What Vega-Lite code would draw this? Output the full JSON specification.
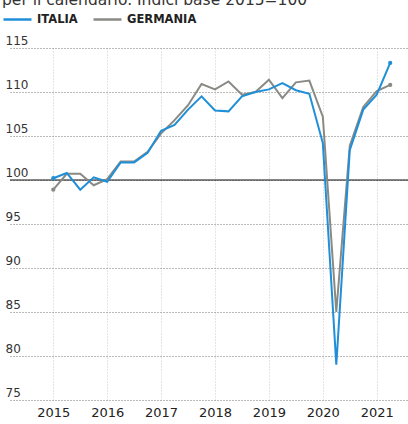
{
  "$schema": "https://vega.github.io/schema/vega-lite/v6.json",
  "autosize": {"type": "none"},
  "padding": {"left": 10, "top": 48, "right": 0, "bottom": 24},
  "width": 398,
  "height": 352,
  "background": "#ffffff",
  "config": {"view": {"stroke": null}, "font": "DejaVu Sans"},
  "title": {"text": "per il calendario. Indici base 2015=100", "frame": "group", "anchor": "start", "orient": "top", "offset": 0, "dy": 16, "baseline": "alphabetic", "dx": -8, "fontSize": 15.5, "fontWeight": "normal", "color": "#333333"},
  "data": {"values": [
    {"q": 2015.0, "s": "GERMANIA", "v": 98.9},
    {"q": 2015.25, "s": "GERMANIA", "v": 100.7},
    {"q": 2015.5, "s": "GERMANIA", "v": 100.7},
    {"q": 2015.75, "s": "GERMANIA", "v": 99.4},
    {"q": 2016.0, "s": "GERMANIA", "v": 100.1},
    {"q": 2016.25, "s": "GERMANIA", "v": 102.1},
    {"q": 2016.5, "s": "GERMANIA", "v": 102.1},
    {"q": 2016.75, "s": "GERMANIA", "v": 103.2},
    {"q": 2017.0, "s": "GERMANIA", "v": 105.3},
    {"q": 2017.25, "s": "GERMANIA", "v": 106.8},
    {"q": 2017.5, "s": "GERMANIA", "v": 108.5},
    {"q": 2017.75, "s": "GERMANIA", "v": 110.9},
    {"q": 2018.0, "s": "GERMANIA", "v": 110.3},
    {"q": 2018.25, "s": "GERMANIA", "v": 111.2},
    {"q": 2018.5, "s": "GERMANIA", "v": 109.7},
    {"q": 2018.75, "s": "GERMANIA", "v": 110.0},
    {"q": 2019.0, "s": "GERMANIA", "v": 111.4},
    {"q": 2019.25, "s": "GERMANIA", "v": 109.3},
    {"q": 2019.5, "s": "GERMANIA", "v": 111.1},
    {"q": 2019.75, "s": "GERMANIA", "v": 111.3},
    {"q": 2020.0, "s": "GERMANIA", "v": 107.2},
    {"q": 2020.25, "s": "GERMANIA", "v": 85.0},
    {"q": 2020.5, "s": "GERMANIA", "v": 103.9},
    {"q": 2020.75, "s": "GERMANIA", "v": 108.3},
    {"q": 2021.0, "s": "GERMANIA", "v": 110.1},
    {"q": 2021.25, "s": "GERMANIA", "v": 110.8},
    {"q": 2015.0, "s": "ITALIA", "v": 100.2},
    {"q": 2015.25, "s": "ITALIA", "v": 100.8},
    {"q": 2015.5, "s": "ITALIA", "v": 98.9},
    {"q": 2015.75, "s": "ITALIA", "v": 100.3},
    {"q": 2016.0, "s": "ITALIA", "v": 99.8},
    {"q": 2016.25, "s": "ITALIA", "v": 102.0},
    {"q": 2016.5, "s": "ITALIA", "v": 102.0},
    {"q": 2016.75, "s": "ITALIA", "v": 103.1},
    {"q": 2017.0, "s": "ITALIA", "v": 105.6},
    {"q": 2017.25, "s": "ITALIA", "v": 106.25},
    {"q": 2017.5, "s": "ITALIA", "v": 108.0},
    {"q": 2017.75, "s": "ITALIA", "v": 109.5},
    {"q": 2018.0, "s": "ITALIA", "v": 107.9},
    {"q": 2018.25, "s": "ITALIA", "v": 107.8},
    {"q": 2018.5, "s": "ITALIA", "v": 109.5},
    {"q": 2018.75, "s": "ITALIA", "v": 110.0},
    {"q": 2019.0, "s": "ITALIA", "v": 110.3},
    {"q": 2019.25, "s": "ITALIA", "v": 111.0},
    {"q": 2019.5, "s": "ITALIA", "v": 110.2},
    {"q": 2019.75, "s": "ITALIA", "v": 109.8},
    {"q": 2020.0, "s": "ITALIA", "v": 104.2},
    {"q": 2020.25, "s": "ITALIA", "v": 79.0},
    {"q": 2020.5, "s": "ITALIA", "v": 103.4},
    {"q": 2020.75, "s": "ITALIA", "v": 108.0},
    {"q": 2021.0, "s": "ITALIA", "v": 109.7},
    {"q": 2021.25, "s": "ITALIA", "v": 113.3}
  ]},
  "encoding": {
    "x": {"field": "q", "type": "quantitative",
      "scale": {"domain": [2014.197, 2021.58], "nice": false, "zero": false},
      "axis": {"title": null, "values": [2015, 2016, 2017, 2018, 2019, 2020, 2021], "format": "d", "domain": false, "ticks": false, "labelPadding": 6, "labelFontSize": 13, "labelColor": "#222222", "labelFont": "DejaVu Sans", "grid": true, "gridDash": [1, 2], "gridColor": "#c8c8c8", "gridWidth": 1}},
    "y": {"field": "v", "type": "quantitative",
      "scale": {"domain": [75, 115], "nice": false, "zero": false},
      "axis": {"title": null, "values": [75, 80, 85, 90, 95, 100, 105, 110, 115], "domain": false, "ticks": false, "labelAlign": "left", "labelPadding": 5, "labelBaseline": "bottom", "labelOffset": -1, "labelFontSize": 12, "labelColor": "#333333", "labelFont": "DejaVu Sans", "grid": true, "gridDash": [1, 2], "gridColor": "#777777", "gridWidth": 1}}
  },
  "layer": [
    {"mark": {"type": "rule", "color": "#111111", "strokeWidth": 1.2},
     "data": {"values": [{"base": 100}]},
     "encoding": {"y": {"field": "base", "type": "quantitative"}, "x": {"value": 0}, "x2": {"value": 398}}},
    {"mark": {"type": "line", "strokeWidth": 2},
     "encoding": {
       "color": {"field": "s", "type": "nominal",
         "scale": {"domain": ["ITALIA", "GERMANIA"], "range": ["#1f8fd8", "#8a8a85"]},
         "legend": {"title": null, "orient": "none", "legendX": -8, "legendY": -44, "direction": "horizontal", "symbolType": "stroke", "symbolSize": 784, "symbolStrokeWidth": 2.5, "labelFontSize": 11.5, "labelFontWeight": "bold", "labelColor": "#222222", "labelFont": "DejaVu Sans", "columnPadding": 10, "symbolOffset": 0}},
       "order": {"field": "q", "type": "quantitative"}
     }},
    {"mark": {"type": "point", "filled": true, "size": 18, "opacity": 1},
     "transform": [{"filter": "datum.q == 2015 || datum.q == 2021.25"}],
     "encoding": {"color": {"field": "s", "type": "nominal", "legend": null}}}
  ]
}
